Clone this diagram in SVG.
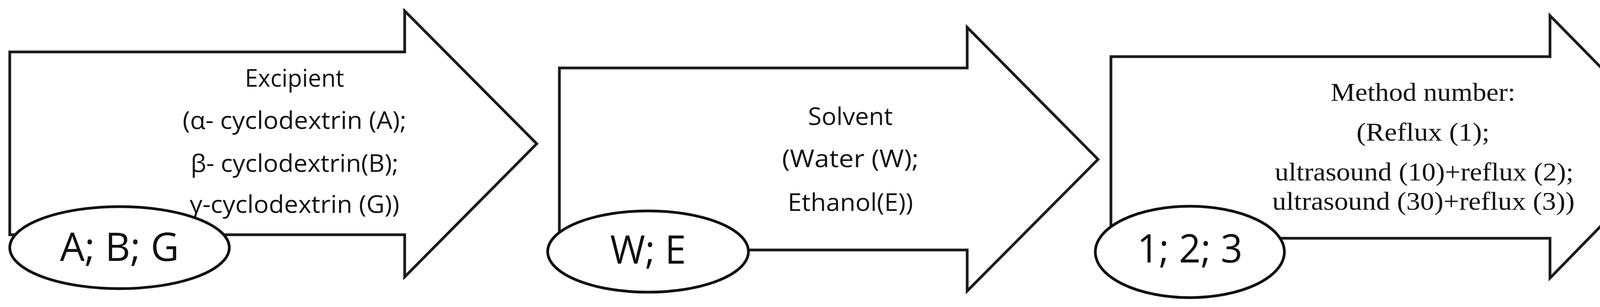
<svg xmlns="http://www.w3.org/2000/svg" width="4329" height="786" viewBox="0 0 4329 786">
<style>
.a{fill:#fff;stroke:#1a1a1a;stroke-width:7;stroke-linejoin:miter}
.e{fill:#fff;stroke:#111;stroke-width:7}
.c{font-family:"Open Sans","Liberation Sans",sans-serif;font-size:62px;fill:#111;text-anchor:middle}
.t{font-family:"Liberation Serif",serif;font-size:66px;fill:#111;text-anchor:middle}
.o{font-family:"Open Sans","Liberation Sans",sans-serif;font-size:100px;fill:#111;text-anchor:middle}
</style>
<rect width="4329" height="786" fill="#fff"/>
<g id="arrow1">
<path class="a" d="M25,133 H1036 V28 L1374,368 L1036,709 V601 H25 Z"/>
<text class="c" x="754" y="222" textLength="254" lengthAdjust="spacingAndGlyphs">Excipient</text>
<text class="c" x="754" y="330" textLength="573" lengthAdjust="spacingAndGlyphs">(α- cyclodextrin (A);</text>
<text class="c" x="754" y="440" textLength="532" lengthAdjust="spacingAndGlyphs">β- cyclodextrin(B);</text>
<text class="c" x="754" y="545" textLength="537" lengthAdjust="spacingAndGlyphs">γ-cyclodextrin (G))</text>
</g>
<g id="node1">
<ellipse class="e" cx="306" cy="634" rx="281" ry="105"/>
<text class="o" x="306" y="668" textLength="305" lengthAdjust="spacingAndGlyphs">A; B; G</text>
</g>
<g id="arrow2">
<path class="a" d="M1432,174 H2476 V70 L2811,408 L2476,745 V640 H1432 Z"/>
<text class="c" x="2177" y="320" textLength="217" lengthAdjust="spacingAndGlyphs">Solvent</text>
<text class="c" x="2177" y="428" textLength="350" lengthAdjust="spacingAndGlyphs">(Water (W);</text>
<text class="c" x="2177" y="540" textLength="321" lengthAdjust="spacingAndGlyphs">Ethanol(E))</text>
</g>
<g id="node2">
<ellipse class="e" cx="1659" cy="644" rx="257" ry="104"/>
<text class="o" x="1659" y="675" textLength="194" lengthAdjust="spacingAndGlyphs">W; E</text>
</g>
<g id="arrow3">
<path class="a" d="M2844,145 H3968 V40 L4297,375 L3968,712 V610 H2844 Z"/>
<text class="t" x="3643" y="258" textLength="473" lengthAdjust="spacingAndGlyphs">Method number:</text>
<text class="t" x="3643" y="360" textLength="341" lengthAdjust="spacingAndGlyphs">(Reflux (1);</text>
<text class="t" x="3646" y="462" textLength="765" lengthAdjust="spacingAndGlyphs">ultrasound (10)+reflux (2);</text>
<text class="t" x="3644" y="537" textLength="774" lengthAdjust="spacingAndGlyphs">ultrasound (30)+reflux (3))</text>
</g>
<g id="node3">
<ellipse class="e" cx="3046" cy="645" rx="242" ry="117"/>
<text class="o" x="3046" y="672" textLength="270" lengthAdjust="spacingAndGlyphs">1; 2; 3</text>
</g>
<g id="connectors"></g>
</svg>
